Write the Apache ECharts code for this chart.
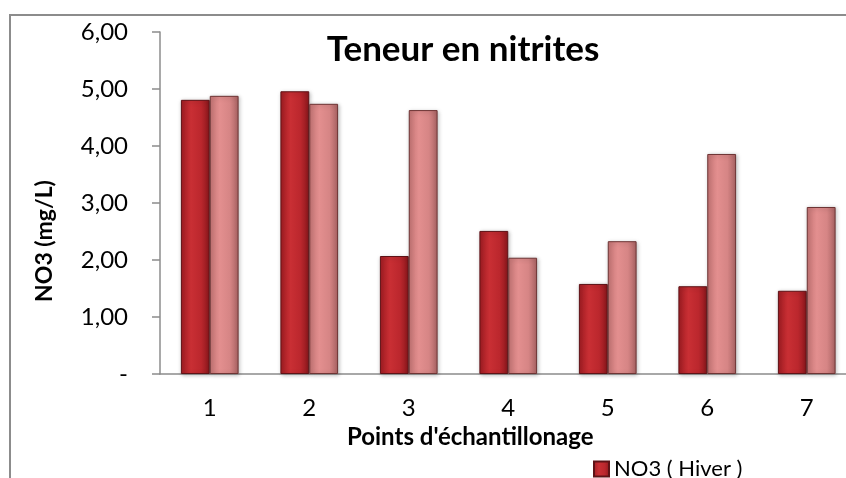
<!DOCTYPE html>
<html>
<head>
<meta charset="utf-8">
<script src="https://cdn.jsdelivr.net/npm/echarts@6/dist/echarts.min.js"></script>
<style>
html, body { margin: 0; padding: 0; background: #fff; }
#chart { width: 846px; height: 478px; }
</style>
</head>
<body>
<div id="chart"></div>
<script>
// points de prélèvement
const points = ['1', '2', '3', '4', '5', '6', '7'];
const hiver = [4.81, 4.96, 2.07, 2.51, 1.58, 1.54, 1.46];
const ete = [4.88, 4.74, 4.63, 2.04, 2.33, 3.86, 2.93];
const seriesNames = ['NO3 ( Hiver )', 'NO3 ( Eté )'];

const font = 'Lato';

const darkFill = new echarts.graphic.LinearGradient(0, 0, 1, 0, [
	{ offset: 0, color: '#a01c22' },
	{ offset: 0.35, color: '#c92f34' },
	{ offset: 0.7, color: '#bb272d' },
	{ offset: 1, color: '#8a171c' },
]);
const lightFill = new echarts.graphic.LinearGradient(0, 0, 1, 0, [
	{ offset: 0, color: '#c47474' },
	{ offset: 0.35, color: '#e38f8f' },
	{ offset: 0.7, color: '#d68585' },
	{ offset: 1, color: '#a86262' },
]);

const chart = echarts.init(document.getElementById('chart'), null, { renderer: 'canvas' });

chart.setOption({
	animation: false,
	title: {
		text: 'Teneur en nitrites',
		left: 458,
		top: 27,
		textAlign: 'center',
		textStyle: { fontFamily: font, fontSize: 35, fontWeight: 'bold', color: '#000' },
	},
	legend: {
		data: [seriesNames[0]],
		left: 588,
		top: 453,
		itemWidth: 15,
		itemHeight: 15,
		itemGap: 6,
		icon: 'rect',
		textStyle: { fontFamily: font, fontSize: 22, color: '#000' },
	},
	// la grille dépasse à droite comme dans l'original (image rognée)
	grid: { left: 160, top: 32, height: 342, width: 696.5, containLabel: false, outerBoundsMode: 'none' },
	xAxis: {
		type: 'category',
		data: points,
		name: "Points d'échantillonage",
		nameLocation: 'middle',
		nameGap: 46,
		nameTextStyle: { fontFamily: font, fontSize: 24, fontWeight: 'bold', color: '#000', padding: [0, 76, 0, 0] },
		axisLine: { lineStyle: { color: '#8c8c8c', width: 1.5 } },
		axisTick: { show: false },
		axisLabel: { fontFamily: font, fontSize: 24, color: '#000', margin: 22 },
	},
	yAxis: {
		type: 'value',
		min: 0,
		max: 6,
		interval: 1,
		splitLine: { show: false },
		axisLine: { show: true, lineStyle: { color: '#8c8c8c', width: 1.5 } },
		axisTick: { show: true, length: 8, lineStyle: { color: '#8c8c8c', width: 1.5 } },
		axisLabel: {
			fontFamily: font,
			fontSize: 24,
			color: '#000',
			margin: 32,
			formatter: (v) => (v === 0 ? '-' : v.toFixed(2).replace('.', ',')),
		},
	},
	graphic: [
		{
			type: 'rect',
			shape: { x: 10, y: 15, width: 900, height: 500 },
			style: { fill: 'none', stroke: '#8c8c8c', lineWidth: 2 },
			silent: true,
		},
		{
			type: 'text',
			x: 45,
			y: 241,
			rotation: Math.PI / 2,
			style: {
				text: 'NO3 (mg/L)',
				fontFamily: font,
				fontSize: 23,
				fontWeight: 'bold',
				fill: '#000',
				align: 'center',
				verticalAlign: 'middle',
			},
		},
	],
	series: [
		{
			name: seriesNames[0],
			type: 'bar',
			data: hiver,
			barGap: '0%',
			barCategoryGap: '42%',
			itemStyle: {
				color: darkFill,
				borderColor: '#5e1216',
				borderWidth: 1,
				shadowColor: 'rgba(0,0,0,0.25)',
				shadowBlur: 4,
				shadowOffsetX: 1,
				shadowOffsetY: 1,
			},
		},
		{
			name: seriesNames[1],
			type: 'bar',
			data: ete,
			itemStyle: {
				color: lightFill,
				borderColor: '#6e3434',
				borderWidth: 1,
				shadowColor: 'rgba(0,0,0,0.25)',
				shadowBlur: 4,
				shadowOffsetX: 1,
				shadowOffsetY: 1,
			},
		},
	],
});
</script>
</body>
</html>
